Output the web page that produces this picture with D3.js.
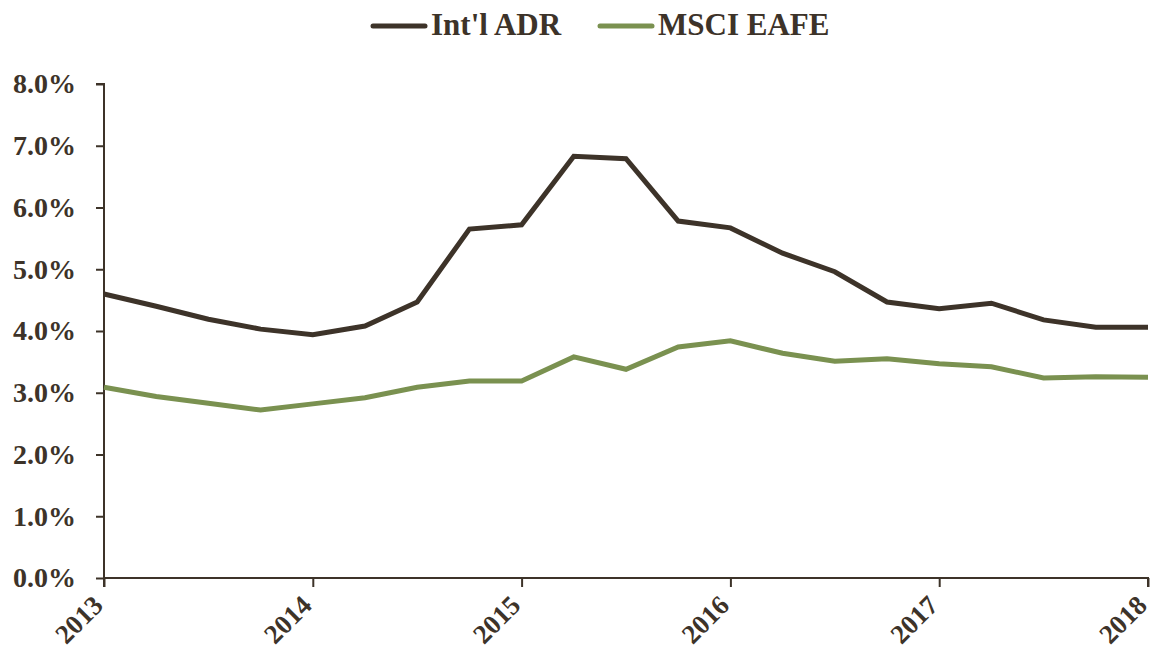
<!DOCTYPE html>
<html><head><meta charset="utf-8">
<script src="https://cdn.jsdelivr.net/npm/d3@7"></script>
<style>body{margin:0;background:#fff}</style>
</head><body><svg id="c" width="1153" height="656"></svg>
<script>
const dates = [2013,2013.25,2013.5,2013.75,2014,2014.25,2014.5,2014.75,2015,2015.25,2015.5,2015.75,2016,2016.25,2016.5,2016.75,2017,2017.25,2017.5,2017.75,2018];
const adr  = [4.60,4.40,4.19,4.03,3.94,4.08,4.47,5.65,5.72,6.83,6.79,5.78,5.67,5.26,4.96,4.47,4.36,4.45,4.18,4.06,4.06];
const eafe = [3.09,2.94,2.83,2.72,2.82,2.92,3.09,3.19,3.19,3.58,3.38,3.74,3.84,3.64,3.51,3.55,3.47,3.42,3.24,3.26,3.25];
const seriesNames = ["Int'l ADR","MSCI EAFE"];
const colors = ["#3d3329","#7a9150"];
const yTicks = [0,1,2,3,4,5,6,7,8];
const xTicks = [2013,2014,2015,2016,2017,2018];

const svg = d3.select("#c");
const font = "'Liberation Serif', serif";
const txt = "#3d3329";
const x = d3.scaleLinear().domain([2013,2018]).range([104,1148]);
const y = d3.scaleLinear().domain([0,8]).range([578,84]);

const yAx = svg.append("g").attr("transform","translate(104,0)")
  .call(d3.axisLeft(y).tickValues(yTicks).tickFormat(d=>d.toFixed(1)+"%").tickSize(8).tickPadding(20));
const xAx = svg.append("g").attr("transform","translate(0,578)")
  .call(d3.axisBottom(x).tickValues(xTicks).tickFormat(d3.format("d")).tickSize(9));
[yAx,xAx].forEach(a=>{
  a.select(".domain").attr("stroke",txt).attr("stroke-width",2);
  a.selectAll(".tick line").attr("stroke",txt).attr("stroke-width",2);
  a.selectAll("text").attr("fill",txt).style("font-family",font).style("font-weight","bold").style("font-size","28px");
});
xAx.selectAll(".tick text").style("font-size","27px");
xAx.select(".domain").attr("d","M104,9V0H1148V9");
yAx.select(".domain").attr("d","M-8,84H0V578");
xAx.selectAll(".tick text").attr("text-anchor","end").attr("dy",0).attr("y",0)
  .attr("transform","translate(0,29) rotate(-45)");

const line = d3.line().x((d,i)=>x(dates[i])).y(d=>y(d));
[adr,eafe].forEach((s,k)=>{
  svg.append("path").datum(s).attr("d",line).attr("fill","none")
    .attr("stroke",colors[k]).attr("stroke-width",5).attr("stroke-linejoin","miter");
});

const leg = [{x1:373,x2:425,tx:431},{x1:600,x2:652,tx:658}];
leg.forEach((l,k)=>{
  svg.append("line").attr("x1",l.x1).attr("x2",l.x2).attr("y1",26).attr("y2",26)
    .attr("stroke",colors[k]).attr("stroke-width",5).attr("stroke-linecap","round");
  svg.append("text").attr("x",l.tx).attr("y",35).text(seriesNames[k])
    .attr("fill",txt).style("font-family",font).style("font-weight","bold").style("font-size","31px");
});
</script></body></html>
